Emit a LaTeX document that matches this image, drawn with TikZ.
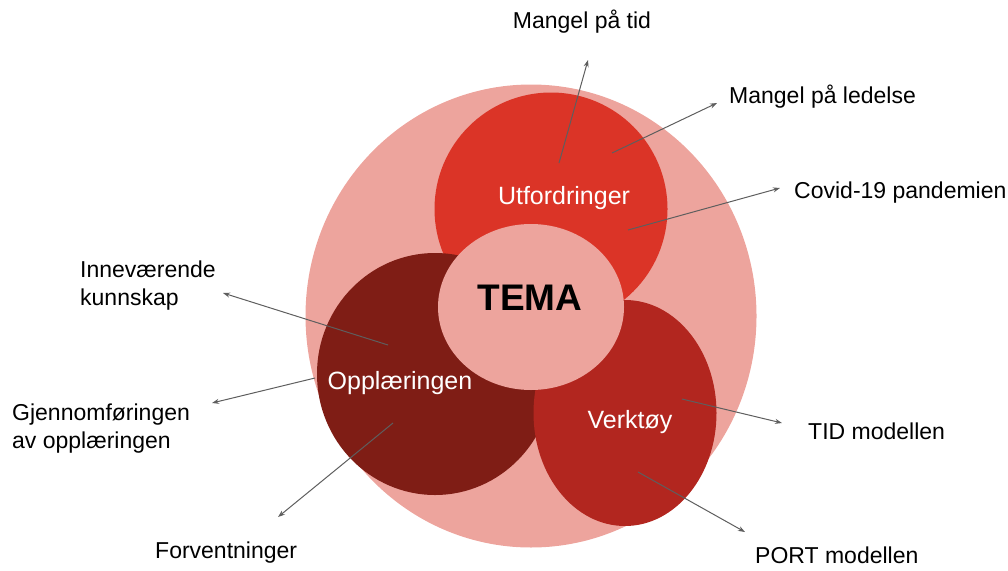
\documentclass[tikz,border=0pt]{standalone}
\usepackage{fontspec}
\setmainfont{Liberation Sans}
\usetikzlibrary{arrows.meta, shapes.geometric}

\definecolor{rosa}{HTML}{EDA49D}
\definecolor{utfrod}{HTML}{DB3427}
\definecolor{opplrod}{HTML}{7F1D15}
\definecolor{verkrod}{HTML}{B2261F}
\definecolor{pilgraa}{HTML}{5E5E5E}

\begin{document}
\begin{tikzpicture}[x=1pt, y=-1pt,
  sirkel/.style={ellipse, inner sep=0pt},
  inni/.style={inner sep=0pt, text=white, font=\fontsize{25}{30}\selectfont},
  tekst/.style={inner sep=0pt, anchor=west, align=left, font=\fontsize{23}{28}\selectfont},
  pil/.style={draw=pilgraa, line width=1pt, -{Stealth[length=7pt,width=5pt]}}]

\useasboundingbox (0,0) rectangle (1008,570);

% the circles, back to front
\node[sirkel, fill=rosa, minimum width=451pt, minimum height=463pt] (bak) at (531,316) {};
\node[sirkel, fill=utfrod, minimum width=233pt, minimum height=233pt] (utf) at (551,209) {};
\node[sirkel, fill=opplrod, minimum width=236pt, minimum height=242pt] (oppl) at (435,374) {};
\node[sirkel, fill=verkrod, minimum width=183pt, minimum height=226pt] (verk) at (625,413) {};
\node[sirkel, fill=rosa, minimum width=186pt, minimum height=166pt] (tema) at (531,307) {};

\node[inni] (utf-txt) at (564,198) {Utfordringer};
\node[inni] (oppl-txt) at (400,383) {Opplæringen};
\node[inni] (verk-txt) at (630,422) {Verktøy};
\node[inner sep=0pt, font=\fontsize{37}{40}\selectfont\bfseries] (tema-txt) at (530,298) {TEMA};

% labels outside
\node[tekst, anchor=center] (tid) at (582,22) {Mangel på tid};
\node[tekst] (ledelse) at (729,97) {Mangel på ledelse};
\node[tekst] (covid) at (794,193) {Covid-19 pandemien};
\node[tekst] (kunnskap) at (80,286) {Inneværende\\kunnskap};
\node[tekst] (gjennom) at (12,429) {Gjennomføringen\\av opplæringen};
\node[tekst] (forv) at (155,553) {Forventninger};
\node[tekst] (tidmod) at (808,431) {TID modellen};
\node[tekst] (portmod) at (755,555) {PORT modellen};

% arrow ends
\coordinate (s1) at (559,163); \coordinate (t1) at (588,60);
\coordinate (s2) at (612,153); \coordinate (t2) at (717,103);
\coordinate (s3) at (628,230); \coordinate (t3) at (780,188);
\coordinate (s4) at (388,345); \coordinate (t4) at (223,293);
\coordinate (s5) at (315,378); \coordinate (t5) at (212,403);
\coordinate (s6) at (393,423); \coordinate (t6) at (278,517);
\coordinate (s7) at (682,399); \coordinate (t7) at (782,423);
\coordinate (s8) at (638,472); \coordinate (t8) at (745,532);

\foreach \i in {1,...,8}
    \draw[pil] (s\i) -- (t\i);

\end{tikzpicture}
\end{document}
